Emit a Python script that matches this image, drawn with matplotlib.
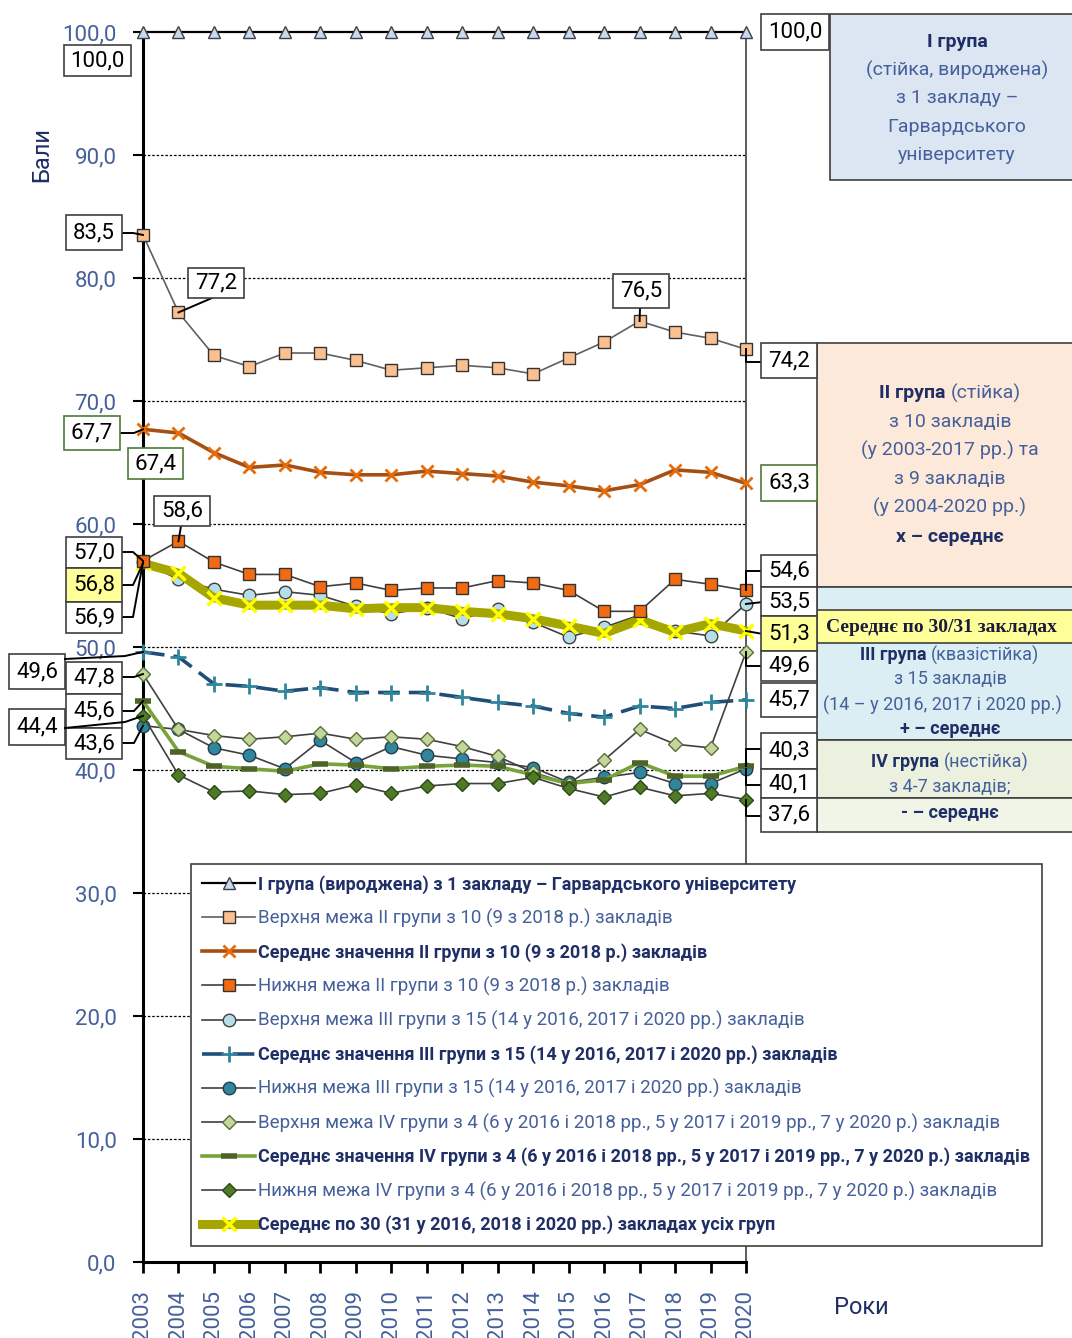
import matplotlib
matplotlib.use('Agg')
import matplotlib.pyplot as plt
from matplotlib.patches import Rectangle
from matplotlib.lines import Line2D

plt.rcParams['font.family'] = ['Roboto', 'DejaVu Sans']

years = list(range(2003, 2021))
group1 = [100.0, 100.0, 100.0, 100.0, 100.0, 100.0, 100.0, 100.0, 100.0,
          100.0, 100.0, 100.0, 100.0, 100.0, 100.0, 100.0, 100.0, 100.0]
upper2 = [83.5, 77.2, 73.7, 72.8, 73.9, 73.9, 73.3, 72.5, 72.7, 72.9, 72.7, 72.2, 73.5, 74.8, 76.5, 75.6, 75.1, 74.2]
mean2 = [67.7, 67.4, 65.8, 64.6, 64.8, 64.2, 64.0, 64.0, 64.3, 64.1, 63.9, 63.4, 63.1, 62.7, 63.2, 64.4, 64.2, 63.3]
lower2 = [57.0, 58.6, 56.9, 55.9, 55.9, 54.9, 55.2, 54.6, 54.8, 54.8, 55.4, 55.2, 54.6, 52.9, 52.9, 55.5, 55.1, 54.6]
upper3 = [56.9, 55.5, 54.7, 54.2, 54.5, 54.2, 53.3, 52.7, 53.2, 52.3, 53.1, 52.0, 50.8, 51.6, 52.6, 51.3, 50.9, 53.5]
mean3 = [49.6, 49.2, 47.0, 46.8, 46.4, 46.7, 46.3, 46.3, 46.3, 45.9, 45.5, 45.2, 44.6, 44.3, 45.2, 45.0, 45.5, 45.7]
lower3 = [43.6, 43.3, 41.8, 41.2, 40.1, 42.4, 40.6, 41.9, 41.2, 40.9, 40.6, 40.2, 39.0, 39.4, 39.8, 38.9, 38.9, 40.1]
upper4 = [47.8, 43.3, 42.8, 42.5, 42.7, 43.0, 42.5, 42.7, 42.5, 41.9, 41.1, 39.8, 38.9, 40.8, 43.3, 42.1, 41.8, 49.6]
mean4 = [45.6, 41.5, 40.3, 40.1, 39.9, 40.5, 40.4, 40.1, 40.3, 40.4, 40.3, 39.6, 38.9, 39.2, 40.6, 39.5, 39.5, 40.3]
lower4 = [44.4, 39.6, 38.2, 38.3, 38.0, 38.1, 38.8, 38.1, 38.7, 38.9, 38.9, 39.4, 38.5, 37.8, 38.6, 37.9, 38.1, 37.6]
mean_all = [56.8, 56.0, 54.0, 53.4, 53.4, 53.4, 53.1, 53.2, 53.2, 52.9, 52.7, 52.3, 51.7, 51.1, 52.2, 51.2, 51.9, 51.3]

labels = [
    'I група (вироджена) з 1 закладу – Гарвардського університету',
    'Верхня межа II групи з 10 (9 з 2018 р.) закладів',
    'Середнє значення II групи з 10 (9 з 2018 р.) закладів',
    'Нижня межа II групи з 10 (9 з 2018 р.) закладів',
    'Верхня межа III групи з 15 (14 у 2016, 2017 і 2020 рр.) закладів',
    'Середнє значення III групи з 15 (14 у 2016, 2017 і 2020 рр.) закладів',
    'Нижня межа III групи з 15 (14 у 2016, 2017 і 2020 рр.) закладів',
    'Верхня межа IV групи з 4 (6 у 2016 і 2018 рр., 5 у 2017 і 2019 рр., 7 у 2020 р.) закладів',
    'Середнє значення IV групи з 4 (6 у 2016 і 2018 рр., 5 у 2017 і 2019 рр., 7 у 2020 р.) закладів',
    'Нижня межа IV групи з 4 (6 у 2016 і 2018 рр., 5 у 2017 і 2019 рр., 7 у 2020 р.) закладів',
    'Середнє по 30 (31 у 2016, 2018 і 2020 рр.) закладах усіх груп',
]
bold_rows = [0, 2, 5, 8, 10]

W, H = 1072, 1338
NAVY = '#1F2F66'
BLUE = '#45609A'

fig = plt.figure(figsize=(W / 100, H / 100), dpi=100)
ax = fig.add_axes([143 / W, 1 - 1262 / H, 603 / W, 1230 / H])
ax.set_xlim(2003, 2020)
ax.set_ylim(0, 100)


def fx(px):
    return px / W


def fy(py):
    return 1 - py / H


def pix(year, val):
    dx, dy = ax.transData.transform((year, val))
    return dx, H - dy


def fmt(v):
    return f'{v:.1f}'.replace('.', ',')


# series
ax.plot(years, group1, color='black', lw=1.6, marker='^', ms=8, mfc='#C6D9F1', mec='#404040', clip_on=False, zorder=6)
ax.plot(years, upper2, color='#606060', lw=1.2, marker='s', ms=9, mfc='#FAC090', mec='#333333', clip_on=False, zorder=5)
ax.plot(years, mean2, color='#A64F12', lw=2.6, marker='x', ms=9, mew=2, mec='#E46C0A', clip_on=False, zorder=5)
ax.plot(years, lower2, color='#404040', lw=1.2, marker='s', ms=9, mfc='#F26B12', mec='#333333', clip_on=False, zorder=5)
ax.plot(years, upper3, color='#404040', lw=1.2, marker='o', ms=9, mfc='#B7DEE8', mec='#404040', clip_on=False, zorder=4)
ax.plot(years, mean3, color='#1F4E79', lw=2.6, dashes=(6, 2.5), marker='+', ms=11, mew=2, mec='#31859C', clip_on=False, zorder=5)
ax.plot(years, lower3, color='#404040', lw=1.2, marker='o', ms=9, mfc='#31869B', mec='#1F3F4F', clip_on=False, zorder=5)
ax.plot(years, upper4, color='#404040', lw=1.2, marker='D', ms=7.5, mfc='#C3D69B', mec='#5A6E3A', clip_on=False, zorder=5)
ax.plot(years, mean4, color='#77A33A', lw=2.6, marker='_', ms=12, mew=4, mec='#4F6228', clip_on=False, zorder=5)
ax.plot(years, lower4, color='#404040', lw=1.2, marker='D', ms=7.5, mfc='#4F7A28', mec='#2E4A14', clip_on=False, zorder=5)
ax.plot(years, mean_all, color='#A6A600', lw=6.5, marker='x', ms=10, mew=2.5, mec='#FFFF00', clip_on=False, zorder=4.5)

# axes styling
ax.set_yticks(range(0, 101, 10))
ax.set_yticklabels([fmt(v) for v in range(0, 101, 10)], color=BLUE, fontsize=16)
ax.set_xticks(years)
ax.set_xticklabels([str(y) for y in years], rotation=90, color=BLUE, fontsize=16)
ax.tick_params(axis='y', length=7, width=1.5, pad=12)
ax.tick_params(axis='x', length=8, width=2, pad=12)
for v in range(10, 100, 10):
    ax.axhline(v, color='black', lw=0.9, ls=(0, (2, 1.5)), zorder=1)
ax.spines['left'].set_linewidth(2.2)
ax.spines['bottom'].set_linewidth(2.2)
ax.spines['top'].set_visible(False)
ax.spines['right'].set_color('#404040')
ax.spines['right'].set_linewidth(1.2)

fig.text(fx(42), fy(155), 'Бали', rotation=90, ha='center', va='center', color=NAVY, fontsize=17)
fig.text(fx(861), fy(1308), 'Роки', ha='center', va='center', color=NAVY, fontsize=17)

# legend
leg = fig.legend(labels, loc='upper left', bbox_to_anchor=(fx(191), fy(864)), bbox_transform=fig.transFigure,
                 fontsize=13.5, frameon=True, fancybox=False, edgecolor='#404040', framealpha=1,
                 handlelength=2.8, handletextpad=0.2, labelspacing=0.8, borderpad=0.6, borderaxespad=0)
leg.get_frame().set_linewidth(1.2)
for i, t in enumerate(leg.get_texts()):
    if i in bold_rows:
        t.set_fontweight('bold')
        t.set_color(NAVY)
        t.set_fontsize(13)
    else:
        t.set_color(BLUE)


def box(x0, y0, x1, y1, txt='', fc='white', ec='#404040', size=16, color='black', z=8):
    fig.add_artist(Rectangle((fx(x0), fy(y1)), fx(x1) - fx(x0), fy(y0) - fy(y1), transform=fig.transFigure,
                             fc=fc, ec=ec, lw=1.2, zorder=z))
    if txt:
        fig.text((fx(x0) + fx(x1)) / 2, (fy(y0) + fy(y1)) / 2, txt, ha='center', va='center',
                 fontsize=size, color=color, zorder=z + 0.5)


def leader(points, z=7.5):
    xs = [fx(p[0]) for p in points]
    ys = [fy(p[1]) for p in points]
    fig.add_artist(Line2D(xs, ys, color='black', lw=1.4, transform=fig.transFigure, zorder=z))


i0, i1, iL = 0, 1, len(years) - 1
i17 = years.index(2017)
x0, xL = years[i0], years[iL]

# left value boxes and leaders
leader([(122, 233), (133, 233), pix(x0, upper2[i0])])
box(66, 215, 122, 250, fmt(upper2[i0]))
leader([(212, 298), pix(years[i1], upper2[i1])])
box(188, 268, 244, 298, fmt(upper2[i1]))
leader([(640, 308), pix(years[i17], upper2[i17])])
box(613, 274, 669, 308, fmt(upper2[i17]))
leader([(120, 433), (134, 433), pix(x0, mean2[i0])])
box(64, 416, 120, 450, fmt(mean2[i0]), ec='#4F7A3A')
box(128, 448, 183, 479, fmt(mean2[i1]), ec='#4F7A3A')
leader([(181, 526), pix(years[i1], lower2[i1])])
box(154, 496, 210, 526, fmt(lower2[i1]))
leader([(122, 552), (133, 552), pix(x0, lower2[i0])])
leader([(122, 585), (133, 585), pix(x0, mean_all[i0])])
leader([(122, 617), (133, 617), pix(x0, upper3[i0])])
box(66, 537, 122, 568, fmt(lower2[i0]))
box(66, 568, 122, 602, fmt(mean_all[i0]), fc='#FFFF99')
box(66, 602, 122, 633, fmt(upper3[i0]))
leader([(122, 677), (134, 677), pix(x0, upper4[i0])])
leader([(122, 711), (134, 711), pix(x0, mean4[i0])])
leader([(122, 743), (134, 743), pix(x0, lower3[i0])])
box(66, 662, 122, 694, fmt(upper4[i0]))
box(66, 694, 122, 728, fmt(mean4[i0]))
box(66, 728, 122, 759, fmt(lower3[i0]))
box(9, 654, 65, 689, fmt(mean3[i0]))
box(9, 709, 65, 745, fmt(lower4[i0]))
leader([(65, 659), (125, 656), pix(x0, mean3[i0])], z=9.5)
leader([(65, 728), (125, 722), pix(x0, lower4[i0])], z=9.5)
box(64, 45, 131, 76, fmt(group1[i0]))

# right value boxes and leaders
px_r = pix(xL, 0)[0]
box(761, 14, 829, 50, fmt(group1[iL]))
leader([pix(xL, upper2[iL]), (px_r, 362), (763, 362)])
box(761, 343, 817, 378, fmt(upper2[iL]))
box(761, 465, 817, 501, fmt(mean2[iL]), ec='#4F7A3A')
leader([pix(xL, lower2[iL]), (px_r, 571), (763, 571)])
box(761, 555, 817, 587, fmt(lower2[iL]))
leader([pix(xL, upper3[iL]), (763, 602)])
box(761, 587, 817, 616, fmt(upper3[iL]))
leader([pix(xL, mean_all[iL]), (763, 634)])
box(761, 616, 817, 651, fmt(mean_all[iL]), fc='#FFFF99')
leader([pix(xL, upper4[iL]), (px_r, 666), (763, 666)])
box(761, 651, 817, 681, fmt(upper4[iL]))
box(761, 683, 817, 717, fmt(mean3[iL]))
leader([pix(xL, mean4[iL]), (px_r, 749), (763, 749)])
leader([pix(xL, lower3[iL]), (px_r, 785), (763, 785)])
leader([pix(xL, lower4[iL]), (px_r, 816), (763, 816)])
box(761, 733, 817, 769, fmt(mean4[iL]))
box(761, 769, 817, 798, fmt(lower3[iL]))
box(761, 798, 817, 832, fmt(lower4[iL]))

# group description panels
box(830, 14, 1090, 180, fc='#DCE6F2', z=6)
box(817, 343, 1090, 587, fc='#FDE9D9', z=6)
box(817, 587, 1090, 740, fc='#DAEEF3', z=6)
box(817, 740, 1090, 798, fc='#EBF1DE', z=6)
box(817, 798, 1090, 832, fc='#F0F5E8', z=6)
box(817, 610, 1090, 643, fc='#FFFF99', z=6.2)

renderer = fig.canvas.get_renderer()


def line(cx, py, parts, size=14, ha='center'):
    arts = []
    for txt, bold in parts:
        t = fig.text(0, fy(py), txt, fontsize=size, va='center', ha='left',
                     fontweight='bold' if bold else 'normal', color=NAVY if bold else BLUE, zorder=7)
        arts.append(t)
    widths = [a.get_window_extent(renderer).width / W for a in arts]
    start = fx(cx) - sum(widths) / 2 if ha == 'center' else fx(cx)
    for a, w in zip(arts, widths):
        a.set_x(start)
        start += w


line(957, 42, [('I група', True)])
line(957, 70, [('(стійка, вироджена)', False)])
line(957, 98, [('з 1 закладу –', False)])
line(957, 127, [('Гарвардського', False)])
line(957, 155, [('університету', False)])

line(950, 393, [('II група ', True), ('(стійка)', False)])
line(950, 422, [('з 10 закладів', False)])
line(950, 450, [('(у 2003-2017 рр.) та', False)])
line(950, 479, [('з 9 закладів', False)])
line(950, 507, [('(у 2004-2020 рр.)', False)])
line(950, 537, [('x – середнє', True)])

fig.text(fx(826), fy(627), 'Середнє по 30/31 закладах', fontsize=14, fontweight='bold', color='#1A1A3A',
         family='Liberation Serif', va='center', ha='left', zorder=7)

line(950, 655, [('III група ', True), ('(квазістійка)', False)], size=13)
line(950, 679, [('з 15 закладів', False)], size=13)
line(823, 705, [('(14 – у 2016, 2017 і 2020 рр.)', False)], size=13, ha='left')
line(950, 729, [('+ – середнє', True)], size=13)

line(950, 762, [('IV група ', True), ('(нестійка)', False)], size=13)
line(950, 787, [('з 4-7 закладів;', False)], size=13)
line(950, 813, [('- – середнє', True)], size=13)

fig.savefig('out.png', dpi=100)
